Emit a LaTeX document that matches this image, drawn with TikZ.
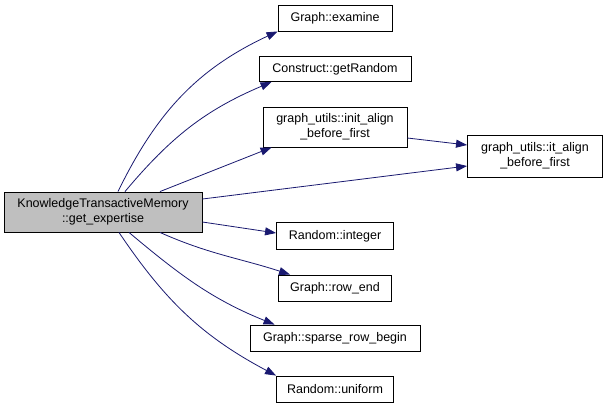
\documentclass[tikz,border=0pt]{standalone}
\usepackage{fontspec}
\setmainfont{Liberation Sans}
\usetikzlibrary{arrows.meta,positioning}
\definecolor{edgeblue}{HTML}{191970}
\definecolor{rootfill}{HTML}{BFBFBF}
\tikzset{
  func/.style={
    draw=black,
    line width=0.9pt,
    rectangle,
    fill=white,
    minimum height=26pt,
    inner sep=2pt,
    align=center,
    font=\fontsize{12.5}{15}\selectfont
  },
  funcroot/.style={
    func,
    fill=rootfill,
    minimum height=40pt
  },
  call/.style={-{Triangle[length=11pt,width=8pt]},draw=edgeblue,line width=0.8pt}
}

\begin{document}
\begin{tikzpicture}[x=1pt,y=1pt]

\useasboundingbox[fill=white] (0,0) rectangle (608,-408);

% Funcion que llama
\node[funcroot, minimum width=198pt] (expertiseF) at (103,-212)
  {KnowledgeTransactiveMemory\\::get\_expertise};

% Funciones llamadas
\node[func, minimum width=114pt] (examineF) at (335,-18) {Graph::examine};
\node[func, minimum width=152pt, minimum height=25pt] (getrandomF) at (335,-69)
  {Construct::getRandom};
\node[func, minimum width=144pt, minimum height=40pt] (initalignF) at (335,-127)
  {graph\_utils::init\_align\\\_before\_first};
\node[func, minimum width=135pt, minimum height=42pt] (italignF) at (535,-156)
  {graph\_utils::it\_align\\\_before\_first};
\node[func, minimum width=117pt, minimum height=27pt] (integerF) at (335,-236)
  {Random::integer};
\node[func, minimum width=113pt] (rowendF) at (335,-288) {Graph::row\_end};
\node[func, minimum width=170pt] (sparseF) at (335,-338)
  {Graph::sparse\_row\_begin};
\node[func, minimum width=117pt] (uniformF) at (335,-389) {Random::uniform};

% Llamadas hacia arriba
\draw[call] ([xshift=15pt]expertiseF.north) to[out=64,in=205] (examineF.south west);
\draw[call] ([xshift=22pt]expertiseF.north) to[out=50,in=203]
  ([xshift=13pt]getrandomF.south west);
\draw[call] ([xshift=57pt]expertiseF.north) -- ([xshift=9pt]initalignF.south west);

% Llamadas hacia it_align
\draw[call] ([yshift=13pt]expertiseF.east) -- ([yshift=-10pt]italignF.west);
\draw[call] ([yshift=-11pt]initalignF.east) -- ([yshift=11pt]italignF.west);

% Llamadas hacia abajo
\draw[call] ([yshift=-10pt]expertiseF.east) -- ([yshift=3pt]integerF.west);
\draw[call] ([xshift=57pt]expertiseF.south) to[out=-24,in=162]
  ([xshift=12pt]rowendF.north west);
\draw[call] ([xshift=26pt]expertiseF.south) to[out=-40,in=158]
  ([xshift=25pt]sparseF.north west);
\draw[call] ([xshift=16pt]expertiseF.south) to[out=-56,in=152]
  (uniformF.north west);

\end{tikzpicture}
\end{document}
